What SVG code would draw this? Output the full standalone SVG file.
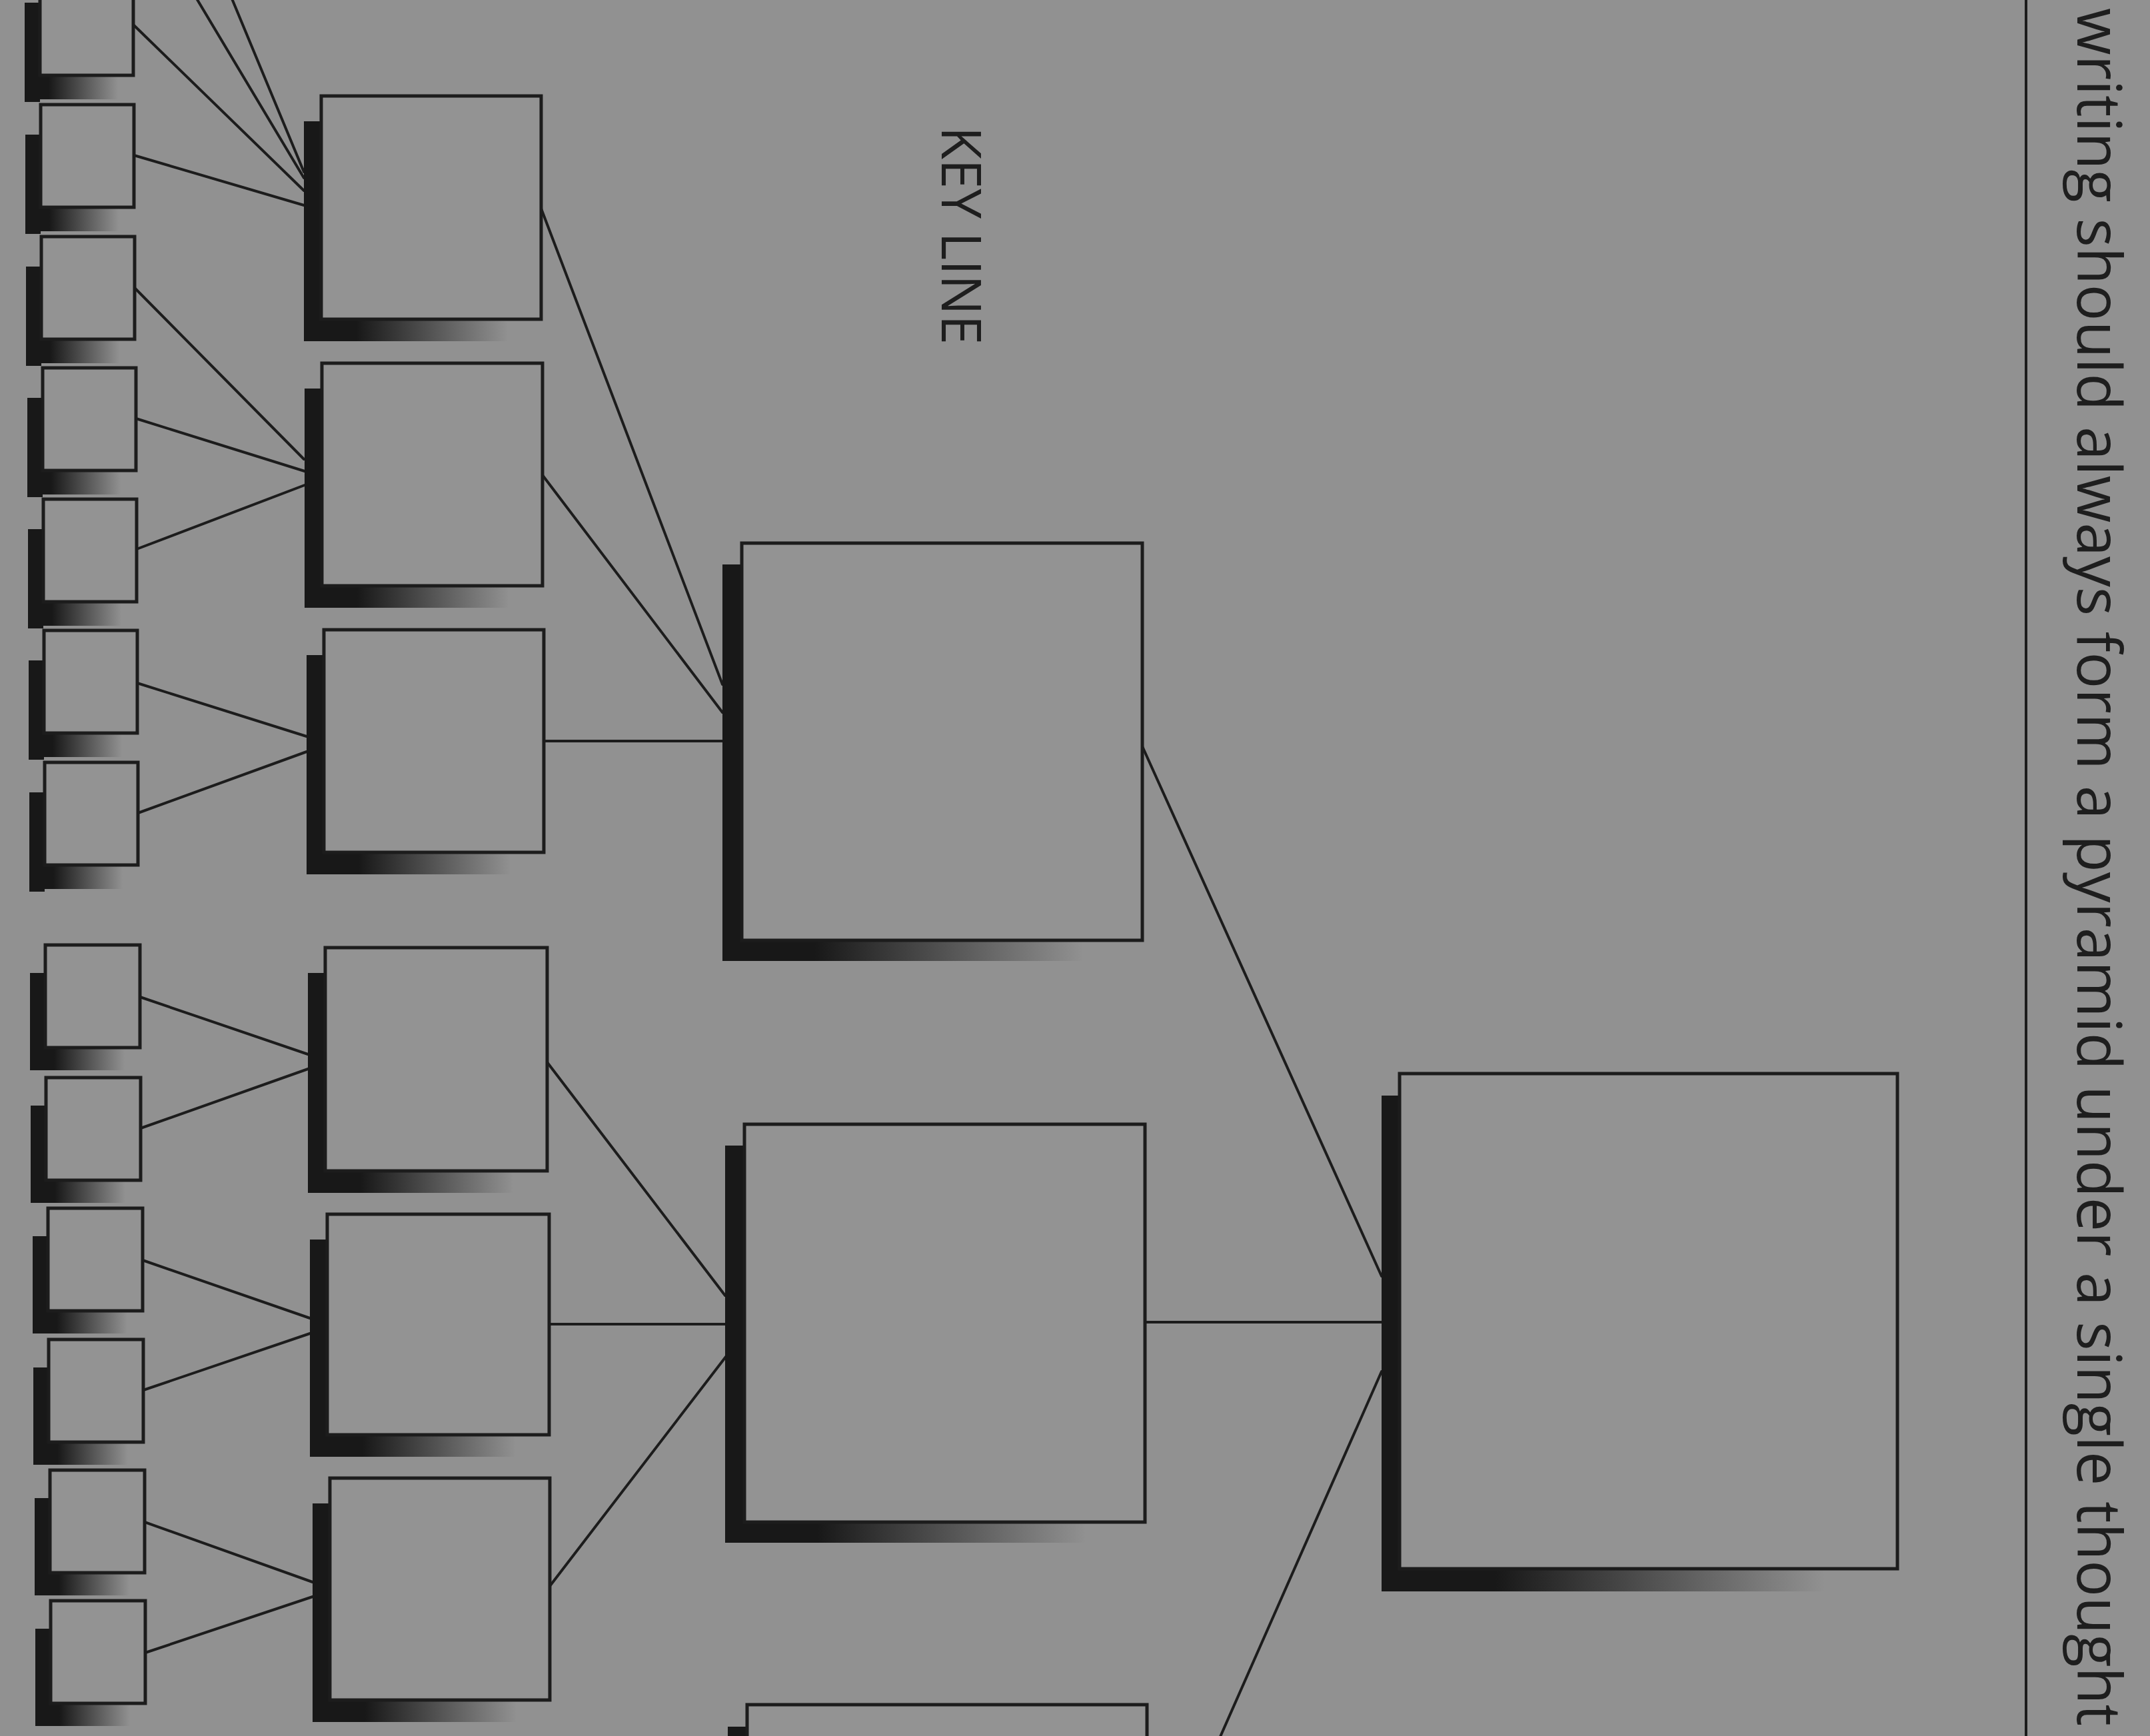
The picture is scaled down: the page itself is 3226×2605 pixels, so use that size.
<svg xmlns="http://www.w3.org/2000/svg" width="3226" height="2605" viewBox="0 0 3226 2605">
<defs>
<linearGradient id="fade" x1="0" y1="0" x2="1" y2="0">
<stop offset="0" stop-color="#181818" stop-opacity="1"/>
<stop offset="0.22" stop-color="#181818" stop-opacity="1"/>
<stop offset="0.86" stop-color="#181818" stop-opacity="0"/>
</linearGradient>
</defs>
<style>
.bg{fill:#919191}
.box{fill:#939393;stroke:#1c1c1c;stroke-width:5}
.sv{fill:#181818}
.sb{fill:url(#fade)}
.conn line{stroke:#1c1c1c;stroke-width:4;stroke-linecap:round}
.txt{font-family:"Open Sans","Noto Sans","DejaVu Sans",sans-serif;fill:#1e1e1e}
</style>
<rect class="bg" x="0" y="0" width="3226" height="2605"/>

<g id="connectors" class="conn">
<line x1="200" y1="-358" x2="456" y2="258"/>
<line x1="200" y1="-161" x2="456" y2="267"/>
<line x1="200" y1="37" x2="456" y2="286"/>
<line x1="201" y1="233" x2="456" y2="308"/>
<line x1="202" y1="432" x2="456" y2="689"/>
<line x1="204" y1="628" x2="457" y2="707"/>
<line x1="205" y1="824" x2="457" y2="728"/>
<line x1="206" y1="1025" x2="460" y2="1105"/>
<line x1="207" y1="1220" x2="460" y2="1128"/>
<line x1="210" y1="1496" x2="462" y2="1582"/>
<line x1="211" y1="1693" x2="465" y2="1603"/>
<line x1="214" y1="1891" x2="465" y2="1978"/>
<line x1="215" y1="2086" x2="465" y2="2001"/>
<line x1="217" y1="2284" x2="469" y2="2374"/>
<line x1="218" y1="2480" x2="469" y2="2396"/>
<line x1="812" y1="313" x2="1084" y2="1027"/>
<line x1="814" y1="713" x2="1084" y2="1069"/>
<line x1="816" y1="1112" x2="1084" y2="1112"/>
<line x1="821" y1="1594" x2="1088" y2="1944"/>
<line x1="824" y1="1987" x2="1088" y2="1987"/>
<line x1="825" y1="2380" x2="1092" y2="2032"/>
<line x1="1714" y1="1120" x2="2073" y2="1915"/>
<line x1="1718" y1="1984" x2="2073" y2="1984"/>
<line x1="1721" y1="2855" x2="2073" y2="2058"/>
</g>

<g id="n1a"><rect class="sv" x="35" y="-193" width="23" height="149"/><rect class="sb" x="35" y="-84" width="163" height="34"/><rect class="box" x="58" y="-238" width="142" height="154"/></g>
<g id="n1b"><rect class="sv" x="37" y="4" width="23" height="149"/><rect class="sb" x="37" y="113" width="163" height="36"/><rect class="box" x="60" y="-41" width="140" height="154"/></g>
<g id="n1c"><rect class="sv" x="38" y="202" width="23" height="149"/><rect class="sb" x="38" y="311" width="163" height="36"/><rect class="box" x="61" y="157" width="140" height="154"/></g>
<g id="n1d"><rect class="sv" x="39" y="400" width="23" height="149"/><rect class="sb" x="39" y="509" width="163" height="36"/><rect class="box" x="62" y="355" width="140" height="154"/></g>
<g id="n1e"><rect class="sv" x="41" y="597" width="23" height="149"/><rect class="sb" x="41" y="706" width="163" height="36"/><rect class="box" x="64" y="552" width="140" height="154"/></g>
<g id="n1f"><rect class="sv" x="42" y="794" width="23" height="149"/><rect class="sb" x="42" y="903" width="163" height="36"/><rect class="box" x="65" y="749" width="140" height="154"/></g>
<g id="n1g"><rect class="sv" x="43" y="991" width="23" height="149"/><rect class="sb" x="43" y="1100" width="163" height="36"/><rect class="box" x="66" y="946" width="140" height="154"/></g>
<g id="n1h"><rect class="sv" x="44" y="1189" width="23" height="149"/><rect class="sb" x="44" y="1298" width="163" height="36"/><rect class="box" x="67" y="1144" width="140" height="154"/></g>

<g id="n1i"><rect class="sv" x="45" y="1460" width="23" height="146"/><rect class="sb" x="45" y="1572" width="165" height="34"/><rect class="box" x="68" y="1418" width="142" height="154"/></g>
<g id="n1j"><rect class="sv" x="46" y="1659" width="23" height="146"/><rect class="sb" x="46" y="1771" width="165" height="34"/><rect class="box" x="69" y="1617" width="142" height="154"/></g>
<g id="n1k"><rect class="sv" x="49" y="1855" width="23" height="146"/><rect class="sb" x="49" y="1967" width="165" height="34"/><rect class="box" x="72" y="1813" width="142" height="154"/></g>
<g id="n1l"><rect class="sv" x="50" y="2052" width="23" height="146"/><rect class="sb" x="50" y="2164" width="165" height="34"/><rect class="box" x="73" y="2010" width="142" height="154"/></g>
<g id="n1m"><rect class="sv" x="52" y="2248" width="23" height="146"/><rect class="sb" x="52" y="2360" width="165" height="34"/><rect class="box" x="75" y="2206" width="142" height="154"/></g>
<g id="n1n"><rect class="sv" x="53" y="2444" width="23" height="146"/><rect class="sb" x="53" y="2556" width="165" height="34"/><rect class="box" x="76" y="2402" width="142" height="154"/></g>

<g id="n2a"><rect class="sv" x="456" y="182" width="26" height="330"/><rect class="sb" x="456" y="479" width="356" height="33"/><rect class="box" x="482" y="144" width="330" height="335"/></g>
<g id="n2b"><rect class="sv" x="457" y="583" width="26" height="329"/><rect class="sb" x="457" y="879" width="357" height="33"/><rect class="box" x="483" y="545" width="331" height="334"/></g>
<g id="n2c"><rect class="sv" x="460" y="983" width="26" height="329"/><rect class="sb" x="460" y="1279" width="356" height="33"/><rect class="box" x="486" y="945" width="330" height="334"/></g>
<g id="n2d"><rect class="sv" x="462" y="1460" width="26" height="330"/><rect class="sb" x="462" y="1757" width="359" height="33"/><rect class="box" x="488" y="1422" width="333" height="335"/></g>
<g id="n2e"><rect class="sv" x="465" y="1860" width="26" height="326"/><rect class="sb" x="465" y="2153" width="359" height="33"/><rect class="box" x="491" y="1822" width="333" height="331"/></g>
<g id="n2f"><rect class="sv" x="469" y="2256" width="26" height="328"/><rect class="sb" x="469" y="2551" width="356" height="33"/><rect class="box" x="495" y="2218" width="330" height="333"/></g>

<g id="n3a"><rect class="sv" x="1084" y="847" width="29" height="595"/><rect class="sb" x="1084" y="1411" width="630" height="31"/><rect class="box" x="1113" y="815" width="601" height="596"/></g>
<g id="n3b"><rect class="sv" x="1088" y="1719" width="29" height="596"/><rect class="sb" x="1088" y="2284" width="630" height="31"/><rect class="box" x="1117" y="1687" width="601" height="597"/></g>
<g id="n3c"><rect class="sv" x="1092" y="2591" width="29" height="595"/><rect class="box" x="1121" y="2558" width="600" height="597"/></g>

<g id="n4"><rect class="sv" x="2073" y="1644" width="27" height="744"/><rect class="sb" x="2073" y="2354" width="774" height="34"/><rect class="box" x="2100" y="1611" width="747" height="743"/></g>

<g id="keyline"><text class="txt" transform="translate(1413,190) rotate(90)" font-size="82" textLength="327" lengthAdjust="spacingAndGlyphs">KEY LINE</text></g>

<line x1="3040" y1="0" x2="3040" y2="2605" stroke="#1c1c1c" stroke-width="4"/>
<g id="caption"><text class="txt" transform="translate(3117,12) rotate(90)" font-size="91" textLength="2578" lengthAdjust="spacingAndGlyphs">writing should always form a pyramid under a single thought</text></g>
</svg>
